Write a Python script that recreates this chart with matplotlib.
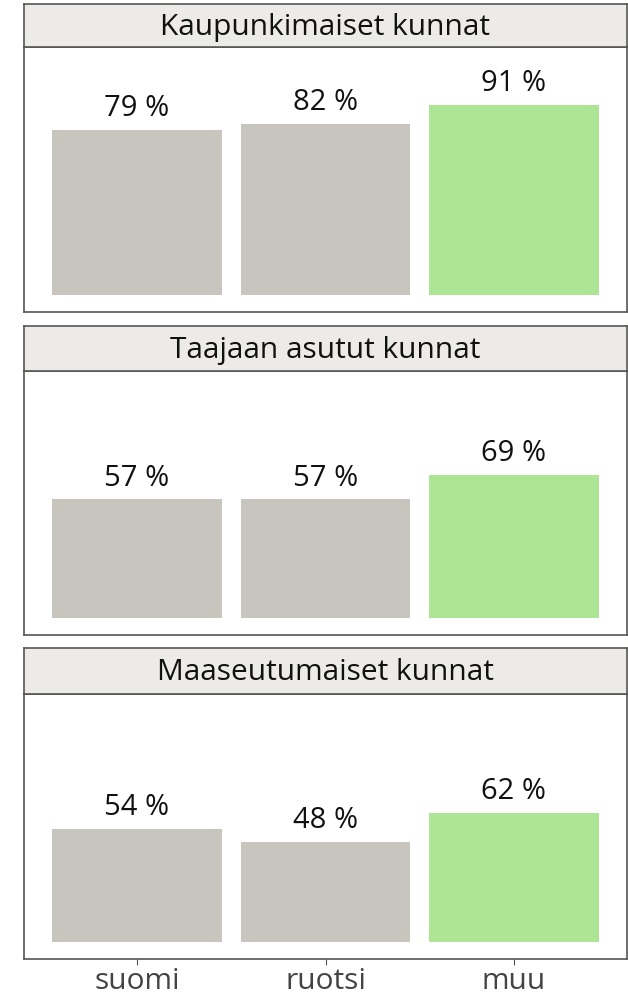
import matplotlib.pyplot as plt

plt.rcParams['font.family'] = ['Open Sans', 'DejaVu Sans']

kielet = ['suomi', 'ruotsi', 'muu']
ryhmat = ['Kaupunkimaiset kunnat', 'Taajaan asutut kunnat', 'Maaseutumaiset kunnat']
osuudet = [
    [79, 82, 91],
    [57, 57, 69],
    [54, 48, 62],
]
varit = ['#c8c5be', '#c8c5be', '#aee594']

W, H = 628, 995
fig = plt.figure(figsize=(W / 100, H / 100), dpi=100)

# paneelien pystysijainnit pikseleinä: (otsikon yläreuna, paneelin yläreuna, alareuna)
paneelit = [(5, 48, 313), (327, 372, 636), (649, 695, 960)]
x0, x1 = 24, 627

for i, (ryhma, arvot) in enumerate(zip(ryhmat, osuudet)):
    st, top, bot = paneelit[i]
    ax = fig.add_axes([x0 / W, 1 - bot / H, (x1 - x0) / W, (bot - top) / H])
    ax.bar(range(len(kielet)), arvot, width=0.9, color=varit)
    for x, v in enumerate(arvot):
        ax.text(x, v + 3.8, f'{v} %', ha='center', va='bottom', fontsize=21, color='#111111')
    ax.set_xlim(-0.6, 2.6)
    ax.set_ylim(-8.2, 118.8)
    ax.set_yticks([])
    for s in ax.spines.values():
        s.set_color('#555555')
        s.set_linewidth(1.2)
    if i == 2:
        ax.set_xticks(range(len(kielet)))
        ax.set_xticklabels(kielet, fontsize=21.5, color='#444444')
        ax.tick_params(axis='x', length=4, color='#555555', pad=1)
    else:
        ax.set_xticks([])

    sx = fig.add_axes([x0 / W, 1 - top / H, (x1 - x0) / W, (top - st) / H])
    sx.set_facecolor('#edebe7')
    sx.set_xticks([])
    sx.set_yticks([])
    for s in sx.spines.values():
        s.set_color('#555555')
        s.set_linewidth(1.2)
    sx.text(0.5, 0.48, ryhma, ha='center', va='center', fontsize=21.5,
            color='#111111', transform=sx.transAxes)

fig.savefig('out.png', dpi=100)
